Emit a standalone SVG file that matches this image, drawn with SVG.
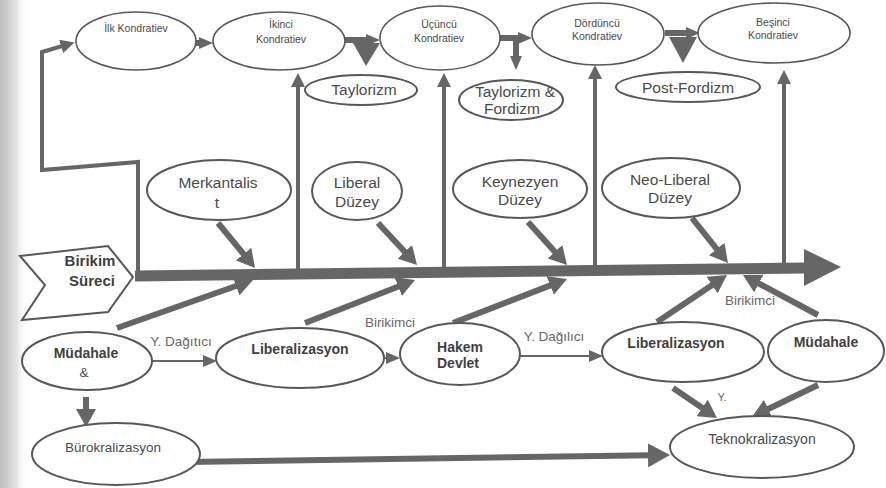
<svg xmlns="http://www.w3.org/2000/svg" width="886" height="488" viewBox="0 0 886 488">
  <style>
    .node ellipse { fill: #ffffff; stroke: #575757; stroke-width: 2; }
    .node.k ellipse { stroke-width: 1.6; }
    text { font-family: "Liberation Sans", Arial, sans-serif; fill: #4a4a4a; text-anchor: middle; }
    .ks { font-size: 10.5px; }
    .md { font-size: 15.5px; }
    .bd { font-size: 14px; font-weight: bold; fill: #3f3f3f; }
    .rg { font-size: 13.5px; }
    .lbl { font-size: 13.5px; fill: #666666; }
    .thick { stroke: #666666; stroke-width: 6; fill: none; }
    .up { stroke: #666666; stroke-width: 4; fill: none; }
    .thin { stroke: #666666; stroke-width: 2; fill: none; }
    .head { fill: #666666; }
  </style>
  <defs>
    <linearGradient id="edge" x1="0" y1="0" x2="1" y2="0">
      <stop offset="0" stop-color="#bdbdbd"/>
      <stop offset="0.6" stop-color="#e4e4e4"/>
      <stop offset="1" stop-color="#ffffff" stop-opacity="0"/>
    </linearGradient>
    <marker id="ah-thick" markerUnits="userSpaceOnUse" markerWidth="18" markerHeight="20" refX="3" refY="10" orient="auto">
      <path d="M0,0 L18,10 L0,20 z" fill="#666666"/>
    </marker>
    <marker id="ah-wide" markerUnits="userSpaceOnUse" markerWidth="22" markerHeight="24" refX="3" refY="12" orient="auto">
      <path d="M0,0 L22,12 L0,24 z" fill="#666666"/>
    </marker>
    <marker id="ah-up" markerUnits="userSpaceOnUse" markerWidth="14" markerHeight="14" refX="3" refY="7" orient="auto">
      <path d="M0,0 L14,7 L0,14 z" fill="#666666"/>
    </marker>
    <marker id="ah-thin" markerUnits="userSpaceOnUse" markerWidth="14" markerHeight="12" refX="2" refY="6" orient="auto">
      <path d="M0,0 L14,6 L0,12 z" fill="#666666"/>
    </marker>
  </defs>

  <rect x="0" y="0" width="886" height="488" fill="#ffffff"/>
  <rect x="0" y="0" width="28" height="488" fill="url(#edge)"/>

  <g id="connectors">
    <!-- main spine -->
    <path d="M135,276 L806,268" stroke="#666666" stroke-width="11" fill="none"/>
    <polygon class="head" points="804,249 841,267 804,286"/>

    <!-- spine start up to the first wave -->
    <path class="up" d="M138,276 L138,162 L42,170 L42,52 L64,45.5" stroke-width="5" marker-end="url(#ah-up)"/>

    <!-- links between waves -->
    <path class="thick" d="M195,43 L201,43" marker-end="url(#ah-thin)"/>
    <path class="thick" d="M345,40 L368,40" marker-end="url(#ah-thin)"/>
    <polygon class="head" points="353,43 380,43 366,66"/>
    <path class="thick" d="M500,38 L520,38" marker-end="url(#ah-thin)"/>
    <path class="thick" d="M516,40 L516,58" marker-end="url(#ah-thin)"/>
    <path class="thick" d="M665,33 L688,33" marker-end="url(#ah-thin)"/>
    <polygon class="head" points="669,37 697,37 683,63"/>

    <!-- spine up to waves -->
    <path class="up" d="M298,272 L298,84" marker-end="url(#ah-up)"/>
    <path class="up" d="M444,271 L444,84" marker-end="url(#ah-up)"/>
    <path class="up" d="M595,269 L595,76" marker-end="url(#ah-up)"/>
    <path class="up" d="M784,268 L784,81" marker-end="url(#ah-up)"/>

    <!-- upper levels into spine -->
    <path class="thick" d="M218,223 L245.5,256.4" marker-end="url(#ah-thick)"/>
    <path class="thick" d="M378,223 L406.8,254" marker-end="url(#ah-thick)"/>
    <path class="thick" d="M528,222 L556.9,253.9" marker-end="url(#ah-thick)"/>
    <path class="thick" d="M692,218 L718.6,251.3" marker-end="url(#ah-thick)"/>

    <!-- lower levels into spine -->
    <path class="thick" d="M117,328 L238.9,285" marker-end="url(#ah-thick)"/>
    <path class="thick" d="M305,323 L401,285.5" marker-end="url(#ah-thick)"/>
    <path class="thick" d="M453,323 L553,284.4" marker-end="url(#ah-thick)"/>
    <path class="thick" d="M657,322 L714.5,283.4" marker-end="url(#ah-thick)"/>
    <path class="thick" d="M818,315 L756.2,282.1" marker-end="url(#ah-thick)"/>

    <!-- lower chain -->
    <path class="thin" d="M152,361 L205,361" marker-end="url(#ah-thin)"/>
    <path class="thin" d="M383,358 L388,358" marker-end="url(#ah-thin)"/>
    <path class="thin" d="M520,356 L591,356" marker-end="url(#ah-thin)"/>

    <!-- towards Teknokralizasyon -->
    <path class="thick" d="M673,388 L704.6,409.6" marker-end="url(#ah-thick)"/>
    <path class="thick" d="M818,385 L765.6,410.3" marker-end="url(#ah-thick)"/>
    <path class="thick" d="M86,397 L86,412" marker-end="url(#ah-thick)"/>
    <path class="thick" d="M187,462 L651,455.3" stroke-width="7" marker-end="url(#ah-wide)"/>
  </g>

  <!-- wave nodes -->
  <g id="n-ilk" class="node k">
    <ellipse cx="136" cy="41" rx="60" ry="29"/>
    <text class="ks" x="136" y="32">İlk Kondratiev</text>
  </g>
  <g id="n-ikinci" class="node k">
    <ellipse cx="279" cy="41" rx="66" ry="29"/>
    <text class="ks" x="281" y="28">İkinci</text>
    <text class="ks" x="281" y="43">Kondratiev</text>
  </g>
  <g id="n-ucuncu" class="node k">
    <ellipse cx="440" cy="38" rx="60" ry="32"/>
    <text class="ks" x="439" y="28">Üçüncü</text>
    <text class="ks" x="439" y="42">Kondratiev</text>
  </g>
  <g id="n-dorduncu" class="node k">
    <ellipse cx="598" cy="34" rx="66" ry="31"/>
    <text class="ks" x="597" y="27">Dördüncü</text>
    <text class="ks" x="597" y="40">Kondratiev</text>
  </g>
  <g id="n-besinci" class="node k">
    <ellipse cx="774" cy="33" rx="76" ry="30"/>
    <text class="ks" x="773" y="26">Beşinci</text>
    <text class="ks" x="773" y="39">Kondratiev</text>
  </g>

  <!-- production models -->
  <g id="n-taylorizm" class="node">
    <ellipse cx="361" cy="90" rx="56" ry="15"/>
    <text class="md" x="364" y="95">Taylorizm</text>
  </g>
  <g id="n-taylor-ford" class="node">
    <ellipse cx="511" cy="100" rx="52" ry="20"/>
    <text class="md" x="515" y="97">Taylorizm &amp;</text>
    <text class="md" x="512" y="114">Fordizm</text>
  </g>
  <g id="n-postford" class="node">
    <ellipse cx="688" cy="87" rx="72" ry="15"/>
    <text class="md" x="688" y="93">Post-Fordizm</text>
  </g>

  <!-- state levels -->
  <g id="n-merkantalist" class="node">
    <ellipse cx="219" cy="190" rx="72" ry="30"/>
    <text class="md" x="218" y="188">Merkantalis</text>
    <text class="md" x="217" y="208">t</text>
  </g>
  <g id="n-liberal" class="node">
    <ellipse cx="357" cy="191" rx="45" ry="29"/>
    <text class="md" x="357" y="188">Liberal</text>
    <text class="md" x="357" y="207">Düzey</text>
  </g>
  <g id="n-keynezyen" class="node">
    <ellipse cx="520" cy="189" rx="67" ry="29"/>
    <text class="md" x="520" y="187">Keynezyen</text>
    <text class="md" x="520" y="205">Düzey</text>
  </g>
  <g id="n-neoliberal" class="node">
    <ellipse cx="671" cy="188" rx="69" ry="30"/>
    <text class="md" x="670" y="185">Neo-Liberal</text>
    <text class="md" x="670" y="203">Düzey</text>
  </g>

  <!-- accumulation process -->
  <g id="n-birikim" class="node">
    <polygon points="20,256 108,246 133,277 108,312 22,320 45,285" fill="#ffffff" stroke="#575757" stroke-width="2"/>
    <text class="bd" x="90" y="266" style="font-size:15px">Birikim</text>
    <text class="bd" x="92" y="286" style="font-size:15px">Süreci</text>
  </g>

  <!-- lower chain -->
  <g id="n-mudahale1" class="node">
    <ellipse cx="87" cy="361" rx="65" ry="29"/>
    <text class="bd" x="86" y="358">Müdahale</text>
    <text class="rg" x="84" y="377">&amp;</text>
  </g>
  <g id="n-liberalizasyon1" class="node">
    <ellipse cx="300" cy="358" rx="84" ry="30"/>
    <text class="bd" x="300" y="354">Liberalizasyon</text>
  </g>
  <g id="n-hakem" class="node">
    <ellipse cx="460" cy="354" rx="60" ry="31"/>
    <text class="bd" x="460" y="352">Hakem</text>
    <text class="bd" x="458" y="368">Devlet</text>
  </g>
  <g id="n-liberalizasyon2" class="node">
    <ellipse cx="683" cy="352" rx="81" ry="30"/>
    <text class="bd" x="676" y="348">Liberalizasyon</text>
  </g>
  <g id="n-mudahale2" class="node">
    <ellipse cx="826" cy="351" rx="58" ry="31"/>
    <text class="bd" x="826" y="347">Müdahale</text>
  </g>
  <g id="n-burokralizasyon" class="node">
    <ellipse cx="116" cy="454" rx="84" ry="31"/>
    <text class="rg" x="113" y="452">Bürokralizasyon</text>
  </g>
  <g id="n-teknokralizasyon" class="node">
    <ellipse cx="762" cy="447" rx="92" ry="31"/>
    <text class="rg" x="762" y="444" style="font-size:14px">Teknokralizasyon</text>
  </g>

  <!-- connector labels -->
  <g id="labels">
    <text class="lbl" x="181" y="346">Y. Dağıtıcı</text>
    <text class="lbl" x="390" y="327">Birikimci</text>
    <text class="lbl" x="554" y="341">Y. Dağılıcı</text>
    <text class="lbl" x="750" y="305">Birikimci</text>
    <text class="lbl" x="722" y="401" style="font-size:11px">Y.</text>
  </g>
</svg>
